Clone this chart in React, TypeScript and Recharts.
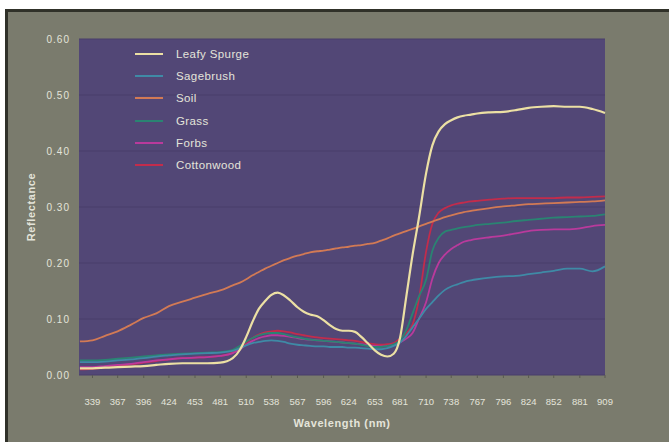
import { CartesianGrid, Label, Legend, Line, LineChart, XAxis, YAxis } from "recharts";

const wavelengths = [
  325, 339, 353, 367, 382, 396, 410, 424, 439, 453, 467, 481, 495, 503, 510, 517, 524, 531, 538, 545,
  552, 559, 567, 574, 581, 589, 596, 603, 610, 617, 624, 631, 638, 645, 653, 660, 667, 674, 681, 688,
  695, 702, 710, 717, 724, 731, 738, 745, 752, 760, 767, 781, 796, 810, 824, 838, 852, 867, 881, 895, 909,
];

const leafySpurge = [
  0.012, 0.012, 0.013, 0.014, 0.015, 0.016, 0.018, 0.02, 0.021, 0.021, 0.021, 0.022, 0.03, 0.045, 0.068, 0.095, 0.118, 0.132, 0.143, 0.147,
  0.142, 0.133, 0.121, 0.113, 0.108, 0.105, 0.098, 0.089, 0.082, 0.079, 0.079, 0.077, 0.068, 0.057, 0.044, 0.036, 0.033, 0.038, 0.066, 0.14,
  0.215, 0.28, 0.36, 0.41, 0.435, 0.448, 0.455, 0.46, 0.463, 0.465, 0.467, 0.469, 0.47, 0.473, 0.477, 0.479, 0.48, 0.479, 0.479, 0.475, 0.468,
];

const sagebrush = [
  0.023, 0.023, 0.024, 0.026, 0.028, 0.03, 0.033, 0.035, 0.037, 0.038, 0.039, 0.04, 0.043, 0.048, 0.053, 0.057, 0.059, 0.061, 0.062, 0.061,
  0.059, 0.056, 0.054, 0.053, 0.052, 0.051, 0.051, 0.05, 0.05, 0.05, 0.049, 0.049, 0.048, 0.047, 0.046, 0.046, 0.048, 0.052, 0.058, 0.07,
  0.085, 0.1, 0.118, 0.13, 0.142, 0.152, 0.158, 0.162, 0.166, 0.169, 0.171, 0.174, 0.176, 0.177, 0.18, 0.183, 0.186, 0.19, 0.19, 0.185, 0.194,
];

const soil = [
  0.06, 0.062, 0.07, 0.078, 0.09, 0.102, 0.11, 0.123, 0.131, 0.138, 0.145, 0.151, 0.16, 0.165, 0.171, 0.178, 0.184, 0.19, 0.195, 0.2,
  0.205, 0.209, 0.213, 0.216, 0.219, 0.221, 0.222, 0.224, 0.226, 0.228, 0.229, 0.231, 0.232, 0.234, 0.236, 0.24, 0.244, 0.249, 0.253, 0.257,
  0.261, 0.265, 0.27, 0.274, 0.278, 0.282, 0.285, 0.288, 0.291, 0.293, 0.295, 0.298, 0.301, 0.303, 0.305, 0.306, 0.307, 0.308, 0.309, 0.31, 0.312,
];

const grass = [
  0.026, 0.026, 0.027, 0.029, 0.031, 0.033, 0.035, 0.037, 0.038, 0.039, 0.04, 0.041, 0.045, 0.052, 0.06, 0.066, 0.071, 0.074, 0.075, 0.075,
  0.073, 0.07, 0.067, 0.065, 0.063, 0.062, 0.061, 0.06, 0.059, 0.058, 0.057, 0.056, 0.054, 0.052, 0.05, 0.05, 0.052, 0.055, 0.062, 0.08,
  0.11, 0.14, 0.17, 0.222, 0.245, 0.256, 0.259, 0.262, 0.264, 0.266, 0.268, 0.27, 0.272, 0.275, 0.277, 0.279, 0.281, 0.282, 0.283, 0.284, 0.287,
];

const forbs = [
  0.014, 0.014, 0.016, 0.018, 0.02, 0.023, 0.026, 0.028, 0.03, 0.031, 0.032, 0.034, 0.039, 0.046, 0.054, 0.061, 0.066, 0.069, 0.071, 0.071,
  0.07, 0.068, 0.066, 0.064, 0.063, 0.062, 0.061, 0.06, 0.059, 0.058, 0.057, 0.056, 0.055, 0.053, 0.052, 0.051, 0.052, 0.054, 0.058, 0.065,
  0.075, 0.1, 0.13, 0.172, 0.2, 0.215, 0.225, 0.232, 0.238, 0.241, 0.243, 0.246, 0.249, 0.253, 0.257, 0.259, 0.26, 0.26, 0.262, 0.266, 0.268,
];

const cottonwood = [
  0.01, 0.011, 0.013, 0.016, 0.019, 0.022, 0.025, 0.028, 0.03, 0.031, 0.032, 0.034, 0.04, 0.049, 0.058, 0.066, 0.072, 0.076, 0.078, 0.079,
  0.078, 0.076, 0.073, 0.071, 0.069, 0.067, 0.066, 0.065, 0.064, 0.063, 0.062, 0.061, 0.059, 0.057, 0.055, 0.054, 0.055, 0.057, 0.065, 0.075,
  0.09, 0.135, 0.22, 0.27, 0.29, 0.298, 0.303, 0.306, 0.308, 0.31, 0.311, 0.313, 0.315, 0.316, 0.316, 0.316, 0.316, 0.317, 0.317, 0.318, 0.319,
];

const xTicks = [339, 367, 396, 424, 453, 481, 510, 538, 567, 596, 624, 653, 681, 710, 738, 767, 796, 824, 852, 881, 909];
const yTicks = [0, 0.1, 0.2, 0.3, 0.4, 0.5, 0.6];

const series = [
  { key: "leafySpurge", name: "Leafy Spurge", color: "#ece0a4", values: leafySpurge },
  { key: "sagebrush", name: "Sagebrush", color: "#3f8aa6", values: sagebrush },
  { key: "soil", name: "Soil", color: "#d27a55", values: soil },
  { key: "grass", name: "Grass", color: "#2a8472", values: grass },
  { key: "forbs", name: "Forbs", color: "#b93a9c", values: forbs },
  { key: "cottonwood", name: "Cottonwood", color: "#c22c4c", values: cottonwood },
];

const data = wavelengths.map((wl, i) => {
  const row: Record<string, number> = { wl };
  series.forEach((s) => (row[s.key] = s.values[i]));
  return row;
});

const font = "'Liberation Sans', Arial, sans-serif";
const textColor = "#e4e4da";

function LegendBox() {
  return (
    <div>
      {series.map((s) => (
        <div key={s.key} style={{ display: "flex", alignItems: "center", height: 22.2 }}>
          <span style={{ display: "inline-block", width: 28, height: 2, background: s.color, marginRight: 13 }} />
          <span style={{ color: textColor, fontSize: 11.5, letterSpacing: 0.4, fontFamily: font }}>{s.name}</span>
        </div>
      ))}
    </div>
  );
}

export default function App() {
  return (
    <div style={{ position: "absolute", left: 0, top: 0, width: 669, height: 442, background: "#ffffff", overflow: "hidden" }}>
      <div
        style={{
          position: "absolute",
          left: 5,
          top: 9,
          right: 0,
          bottom: 0,
          background: "#7a7b6d",
          borderTop: "3px solid #303129",
          borderLeft: "3px solid #303129",
        }}
      />
      <div style={{ position: "absolute", left: 0, top: 0 }}>
        <LineChart width={669} height={442} data={data} margin={{ top: 39, right: 64, left: 0, bottom: 0 }}>
          <CartesianGrid vertical={false} fill="#524776" stroke="#483e6a" strokeWidth={1} />
          <XAxis
            dataKey="wl"
            type="number"
            domain={[324, 909]}
            ticks={xTicks}
            interval={0}
            height={67}
            axisLine={false}
            tickSize={3}
            tickLine={{ stroke: "#5a5a52" }}
            tickMargin={20}
            tick={{ fill: textColor, fontSize: 9.5, fontFamily: font }}
          >
            <Label
              value="Wavelength (nm)"
              position="insideBottom"
              offset={15}
              style={{ fill: textColor, fontSize: 11, fontWeight: "bold", letterSpacing: 0.6, fontFamily: font }}
            />
          </XAxis>
          <YAxis
            domain={[0, 0.6]}
            ticks={yTicks}
            interval={0}
            width={79}
            axisLine={false}
            tickLine={false}
            tickSize={0}
            tickMargin={9}
            tickFormatter={(v: number) => v.toFixed(2)}
            tick={{ fill: textColor, fontSize: 10, letterSpacing: 1, fontFamily: font }}
          >
            <Label
              content={(props: any) => {
                const vb = props.viewBox;
                const cx = vb.x + 31;
                const cy = vb.y + vb.height / 2;
                return (
                  <text
                    x={cx}
                    y={cy}
                    transform={`rotate(-90 ${cx} ${cy})`}
                    textAnchor="middle"
                    dominantBaseline="central"
                    style={{ fill: textColor, fontSize: 11, fontWeight: "bold", letterSpacing: 0.6, fontFamily: font }}
                  >
                    Reflectance
                  </text>
                );
              }}
            />
          </YAxis>
          <Legend
            layout="vertical"
            align="center"
            verticalAlign="middle"
            content={() => <LegendBox />}
            wrapperStyle={{ left: 135, top: 43, width: 170, height: 140 }}
          />
          {[...series].reverse().map((s) => (
            <Line
              key={s.key}
              dataKey={s.key}
              name={s.name}
              stroke={s.color}
              strokeWidth={s.key === "leafySpurge" ? 2.2 : 1.8}
              dot={false}
              activeDot={false}
              type="monotone"
              isAnimationActive={false}
            />
          ))}
        </LineChart>
      </div>
    </div>
  );
}
